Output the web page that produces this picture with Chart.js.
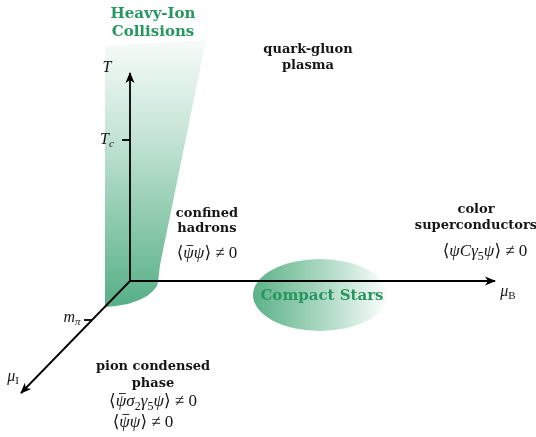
<!DOCTYPE html>
<html>
<head>
<meta charset="utf-8">
<script src="https://cdn.jsdelivr.net/npm/chart.js@4.4.1/dist/chart.umd.min.js"></script>
<style>
  body { margin: 0; background: #fff; }
  #chartCanvas { display: block; }
</style>
</head>
<body>
<canvas id="chartCanvas" width="536" height="437"></canvas>
<script>
// axes of the phase diagram (origin = T=0, muB=0, muI=0)
var tAxisX = [0, 0];
var tAxisY = [0, 208];
var muBAxisX = [0, 365];
var muBAxisY = [0, 0];
var muIAxisX = [0, -109];
var muIAxisY = [0, -112];

// tick marks
var tcTickX = [-8, 0];
var tcTickY = [141, 141];
var mpiTickX = [-46, -38];
var mpiTickY = [-39, -39];

// heavy-ion collision band outline
var bandX = [-25, 76, 30, 28, 27, 23, 17, 9, -2, -14, -25, -25];
var bandY = [235, 241, 16, -1, -5, -10, -15, -19, -23, -25, -26, 235];

// compact stars region (centre and radii)
var starsCentre = [190, -14];
var starsRadius = [67, 36];

// labels
var phaseLabels = ["Heavy-Ion", "Collisions", "quark-gluon", "plasma", "confined", "hadrons",
  "color", "superconductors", "pion condensed", "phase"];
var axisLabels = ["T", "T_c", "m_π", "μ_B", "μ_I"];

function pts(xs, ys) {
  return xs.map(function (x, i) { return { x: x, y: ys[i] }; });
}

var green = "#27965f";
var labelPos = [[23, 267, green], [23, 249, green], [178, 231], [178, 215], [77, 67], [77, 52],
  [346, 71], [346, 55], [23, -86], [23, -103]];

// math runs: r roman, i italic, b italic with bar, s subscript
var mathLabels = [
  { at: [77, 27], runs: [["⟨", "r"], ["ψ", "b"], ["ψ", "i"], ["⟩ ≠ 0", "r"]] },
  { at: [355, 29], runs: [["⟨", "r"], ["ψC", "i"], ["γ", "i"], ["5", "s"], ["ψ", "i"], ["⟩ ≠ 0", "r"]] },
  { at: [23, -121], runs: [["⟨", "r"], ["ψ", "b"], ["σ", "i"], ["2", "s"], ["γ", "i"], ["5", "s"], ["ψ", "i"], ["⟩ ≠ 0", "r"]] },
  { at: [13, -142], runs: [["⟨", "r"], ["ψ", "b"], ["ψ", "i"], ["⟩ ≠ 0", "r"]] },
  { at: [-23, 213], runs: [["T", "i"]] },
  { at: [-23, 141], runs: [["T", "i"], ["c", "si"]] },
  { at: [-58, -37], runs: [["m", "i"], ["π", "si"]] },
  { at: [378, -11], runs: [["μ", "i"], ["B", "s"]] },
  { at: [-117, -96], runs: [["μ", "i"], ["I", "s"]] }
];

var mathFont = '"Liberation Serif", "DejaVu Serif", serif';

function runFont(type, size) {
  var sub = type.charAt(0) === "s";
  var s = sub ? Math.round(size * 0.7) : size;
  var ital = (type === "i" || type === "b" || type === "si") ? "italic " : "";
  return ital + s + "px " + mathFont;
}

function drawRuns(ctx, runs, cx, cy, size) {
  var widths = runs.map(function (r) {
    ctx.font = runFont(r[1], size);
    return ctx.measureText(r[0]).width;
  });
  var total = widths.reduce(function (a, b) { return a + b; }, 0);
  var x = cx - total / 2;
  ctx.textBaseline = "middle";
  ctx.textAlign = "left";
  runs.forEach(function (r, i) {
    ctx.font = runFont(r[1], size);
    var y = cy;
    if (r[1].charAt(0) === "s") y = cy + size * 0.28;
    ctx.fillText(r[0], x, y);
    if (r[1] === "b") {
      ctx.beginPath();
      ctx.lineWidth = 0.9;
      ctx.moveTo(x + widths[i] * 0.3, cy - size * 0.5);
      ctx.lineTo(x + widths[i] * 0.95, cy - size * 0.5);
      ctx.stroke();
    }
    x += widths[i];
  });
}

var diagramPlugin = {
  id: "diagram",
  beforeDatasetsDraw: function (chart) {
    var ctx = chart.ctx, sx = chart.scales.x, sy = chart.scales.y;
    var cx = sx.getPixelForValue(starsCentre[0]);
    var cy = sy.getPixelForValue(starsCentre[1]);
    var rx = sx.getPixelForValue(starsCentre[0] + starsRadius[0]) - cx;
    var ry = cy - sy.getPixelForValue(starsCentre[1] + starsRadius[1]);
    var g = ctx.createLinearGradient(cx - rx, 0, cx + rx, 0);
    g.addColorStop(0, "rgb(92,178,136)");
    g.addColorStop(0.55, "rgb(176,218,197)");
    g.addColorStop(1, "rgb(252,254,253)");
    ctx.save();
    ctx.beginPath();
    ctx.ellipse(cx, cy, rx, ry, 0, 0, Math.PI * 2);
    ctx.fillStyle = g;
    ctx.fill();
    ctx.restore();
  },
  afterDatasetsDraw: function (chart) {
    var ctx = chart.ctx, sx = chart.scales.x, sy = chart.scales.y;
    ctx.save();
    // arrow heads
    chart.data.datasets.forEach(function (ds, i) {
      if (!ds.arrow) return;
      var el = chart.getDatasetMeta(i).data;
      var a = el[el.length - 2], b = el[el.length - 1];
      var ang = Math.atan2(b.y - a.y, b.x - a.x);
      ctx.save();
      ctx.translate(b.x, b.y);
      ctx.rotate(ang);
      ctx.beginPath();
      ctx.moveTo(1, 0);
      ctx.lineTo(-10, -4.5);
      ctx.lineTo(-7, 0);
      ctx.lineTo(-10, 4.5);
      ctx.closePath();
      ctx.fillStyle = "#000";
      ctx.fill();
      ctx.restore();
    });
    // phase labels
    ctx.textAlign = "center";
    ctx.textBaseline = "middle";
    phaseLabels.forEach(function (t, i) {
      var p = labelPos[i];
      ctx.font = (p[2] ? "bold 15px" : "bold 13px") + ' "DejaVu Serif", serif';
      ctx.fillStyle = p[2] || "#161616";
      ctx.fillText(t, sx.getPixelForValue(p[0]), sy.getPixelForValue(p[1]));
    });
    ctx.font = 'bold 15px "DejaVu Serif", serif';
    ctx.fillStyle = green;
    ctx.fillText("Compact Stars", sx.getPixelForValue(starsCentre[0] + 2), sy.getPixelForValue(starsCentre[1] - 1));
    // math
    ctx.fillStyle = "#161616";
    ctx.strokeStyle = "#161616";
    mathLabels.forEach(function (m, i) {
      var size = i < 4 ? 17 : 16;
      drawRuns(ctx, m.runs, sx.getPixelForValue(m.at[0]), sy.getPixelForValue(m.at[1]), size);
    });
    ctx.restore();
  }
};

function axisSet(label, xs, ys, arrow) {
  return {
    label: label,
    data: pts(xs, ys),
    showLine: true,
    borderColor: "#000",
    borderWidth: 1.8,
    pointRadius: 0,
    fill: false,
    arrow: arrow,
    order: 0
  };
}

var ctx = document.getElementById("chartCanvas");
var diagram = new Chart(ctx, {
  type: "scatter",
  data: {
    datasets: [
      axisSet(axisLabels[0], tAxisX, tAxisY, true),
      axisSet(axisLabels[3], muBAxisX, muBAxisY, true),
      axisSet(axisLabels[4], muIAxisX, muIAxisY, true),
      axisSet(axisLabels[1], tcTickX, tcTickY, false),
      axisSet(axisLabels[2], mpiTickX, mpiTickY, false),
      {
        label: "Heavy-Ion Collisions",
        data: pts(bandX, bandY),
        showLine: true,
        fill: "shape",
        borderWidth: 0,
        borderColor: "rgba(0,0,0,0)",
        pointRadius: 0,
        order: 5,
        backgroundColor: function (c) {
          var chart = c.chart;
          if (!chart.chartArea) return "rgb(95,180,140)";
          var sy = chart.scales.y;
          var g = chart.ctx.createLinearGradient(0, sy.getPixelForValue(241), 0, sy.getPixelForValue(-26));
          g.addColorStop(0, "rgb(247,251,249)");
          g.addColorStop(0.35, "rgb(198,229,214)");
          g.addColorStop(1, "rgb(86,175,134)");
          return g;
        }
      }
    ]
  },
  options: {
    responsive: false,
    animation: false,
    devicePixelRatio: 1,
    layout: { padding: 0 },
    plugins: { legend: { display: false }, tooltip: { enabled: false } },
    scales: {
      x: { type: "linear", min: -130, max: 406, display: false },
      y: { type: "linear", min: -156, max: 281, display: false }
    }
  },
  plugins: [diagramPlugin]
});
</script>
</body>
</html>
